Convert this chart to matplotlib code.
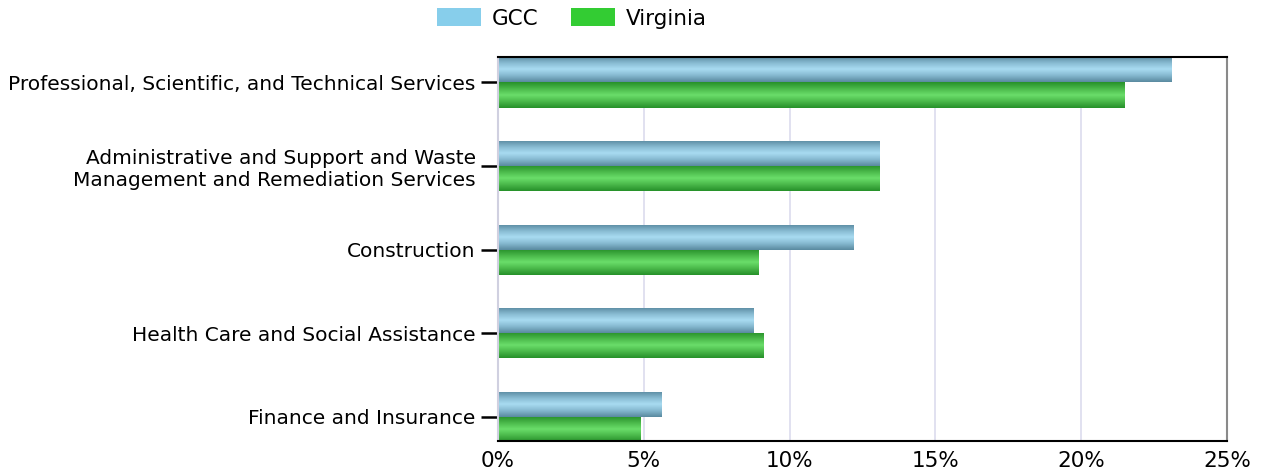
import numpy as np
import matplotlib
matplotlib.use("Agg")
import matplotlib.pyplot as plt
from matplotlib.patches import Patch
from matplotlib.ticker import FuncFormatter
from matplotlib.colors import LinearSegmentedColormap

categories = [
    "Professional, Scientific, and Technical Services",
    "Administrative and Support and Waste\nManagement and Remediation Services",
    "Construction",
    "Health Care and Social Assistance",
    "Finance and Insurance",
]
gcc = [23.1, 13.07, 12.2, 8.75, 5.62]
virginia = [21.5, 13.1, 8.95, 9.1, 4.9]
series_names = ["GCC", "Virginia"]
x_ticks = [0, 5, 10, 15, 20, 25]

plt.rcParams['font.family'] = ['DejaVu Sans']

fig = plt.figure(figsize=(12.63, 4.74), dpi=100)
ax = fig.add_axes([498/1263, 33/474, (1227-498)/1263, (441-57)/474])

bh = 0.3
ypos = np.arange(len(categories))

def grad_cmap(edge, mid, center):
    return LinearSegmentedColormap.from_list(
        "g", [(0, edge), (0.25, mid), (0.5, center), (0.75, mid), (1, edge)])

blue_cmap = grad_cmap("#5a8aa0", "#86b9d0", "#a9dcf2")
green_cmap = grad_cmap("#27912a", "#4ab84a", "#6ade6a")
grad = np.linspace(0, 1, 64).reshape(-1, 1)

for vals, off, cmap in [(gcc, -bh/2, blue_cmap), (virginia, bh/2, green_cmap)]:
    bars = ax.barh(ypos + off, vals, height=bh, color="none", edgecolor="none", zorder=3)
    for b in bars:
        x0, y0 = b.get_x(), b.get_y()
        w, h = b.get_width(), b.get_height()
        im = ax.imshow(grad, cmap=cmap, aspect="auto", extent=(x0, x0 + w, y0 + h, y0),
                       zorder=3, interpolation="bilinear")
        im.set_clip_path(b)

ax.set_xlim(0, 25)
ax.set_ylim(4 + 0.287, -0.304)
ax.set_xticks(x_ticks)
ax.xaxis.set_major_formatter(FuncFormatter(lambda v, p: f"{v:.0f}%"))
ax.set_yticks(ypos)
ax.set_yticklabels(categories, fontsize=14.5)
ax.tick_params(axis="y", length=12, width=1.8, color="black", pad=4)
ax.tick_params(axis="x", length=0, labelsize=15.5, pad=7)
ax.grid(axis="x", color="#dcdcee", linewidth=1.2, zorder=0)
ax.set_axisbelow(True)

ax.spines["left"].set_color("#d0d0e0")
ax.spines["right"].set_color("#8a8a8a")
ax.spines["top"].set_color("black")
ax.spines["bottom"].set_color("black")
for s in ax.spines.values():
    s.set_linewidth(1.5)
    s.set_zorder(4)

handles = [Patch(facecolor="#87ceeb", edgecolor="none"),
           Patch(facecolor="#33cc33", edgecolor="none")]
fig.legend(handles, series_names, loc="center", bbox_to_anchor=(572/1263, 1 - 18.5/474),
           ncol=2, frameon=False, fontsize=15.5, handlelength=2.05, handleheight=0.9,
           columnspacing=1.5, handletextpad=0.5, borderpad=0)

fig.savefig("out.png", dpi=100)
